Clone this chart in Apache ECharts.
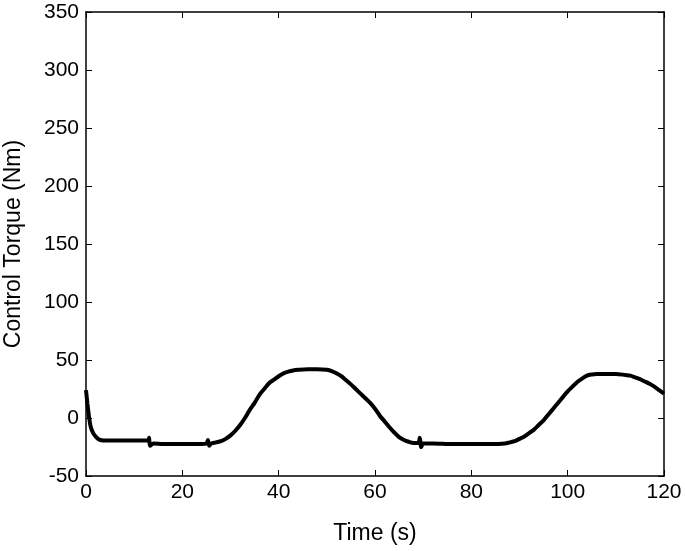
<!DOCTYPE html>
<html>
<head>
<meta charset="utf-8">
<script src="https://cdn.jsdelivr.net/npm/echarts@6/dist/echarts.min.js"></script>
<style>
html, body { margin: 0; padding: 0; background: #fff; }
#chart { width: 685px; height: 551px; }
</style>
</head>
<body>
<div id="chart"></div>
<script>
// time (s) and control torque (Nm)
var time = [0, 0.3, 0.6, 1, 1.5, 2, 2.5, 3, 4, 6, 8, 10, 12, 13, 13.1, 13.3, 14, 16, 20, 24,
    25, 25.3, 25.6, 26, 27, 28, 29, 30, 31, 32, 33, 34, 35, 36, 37, 38, 39, 40, 41, 42, 43, 44,
    46, 48, 50, 51, 52, 53, 54, 55, 56, 57, 58, 59, 60, 61, 62, 63, 64, 65, 66, 67, 68, 69,
    69.3, 69.6, 70, 72, 76, 80, 84, 87, 88, 89, 90, 91, 92, 93, 94, 95, 96, 97, 98, 99, 100,
    101, 102, 103, 104, 105, 106, 108, 110, 112, 113, 114, 115, 116, 117, 118, 119, 120];
var torque = [24, 12, 2, -8, -13, -16, -18, -19, -19.5, -19.5, -19.5, -19.5, -19.5, -19.5, -17, -24, -22, -22.5, -22.5, -22.5,
    -22, -19, -24, -22, -21, -20, -18, -15, -11, -6, 0, 7, 13, 20, 25, 30, 33, 36, 38.5, 40, 41, 41.5,
    42, 42, 41.5, 40.5, 38.5, 36, 32.5, 29, 25, 21, 17, 13, 8, 2, -3, -8, -12.5, -16.5, -19, -20.5, -21.5, -21.5,
    -17, -25, -22, -22, -22.5, -22.5, -22.5, -22, -21, -20, -18, -16, -13, -10, -6, -2, 3, 8, 13, 18, 23,
    27, 31, 34, 36.5, 37.5, 38, 38, 38, 37, 36.5, 35, 33.5, 31.5, 29.5, 27, 24, 21];

var xTicks = [0, 20, 40, 60, 80, 100, 120];
var yTicks = [-50, 0, 50, 100, 150, 200, 250, 300, 350];

var chart = echarts.init(document.getElementById('chart'));
var font = 'Liberation Sans, Arial, sans-serif';
var pts = time.map(function (t, i) { return [t, torque[i]]; });

function boxAxis(extra) {
    var base = {
        type: 'value',
        axisLine: { show: true, onZero: false, lineStyle: { color: '#000', width: 1.5 } },
        axisTick: { show: true, inside: true, length: 6, lineStyle: { color: '#000', width: 1 } },
        splitLine: { show: false }
    };
    return Object.assign(base, extra);
}

var option = {
    animation: false,
    backgroundColor: '#fff',
    grid: { left: 86, top: 12, right: 21, bottom: 75, containLabel: false, outerBoundsMode: 'none' },
    xAxis: [
        boxAxis({
            min: xTicks[0], max: xTicks[xTicks.length - 1], interval: 20,
            name: 'Time (s)', nameLocation: 'middle', nameGap: 46,
            nameTextStyle: { color: '#000', fontSize: 23, fontFamily: font },
            axisLabel: { color: '#000', fontSize: 21, fontFamily: font, margin: 6 }
        }),
        boxAxis({
            position: 'top', min: xTicks[0], max: xTicks[xTicks.length - 1], interval: 20,
            axisLabel: { show: false }
        })
    ],
    yAxis: [
        boxAxis({
            min: yTicks[0], max: yTicks[yTicks.length - 1], interval: 50,
            name: 'Control Torque (Nm)', nameLocation: 'middle', nameGap: 61,
            nameTextStyle: { color: '#000', fontSize: 23, fontFamily: font },
            axisLabel: { color: '#000', fontSize: 21, fontFamily: font, margin: 7 }
        }),
        boxAxis({
            position: 'right', min: yTicks[0], max: yTicks[yTicks.length - 1], interval: 50,
            axisLabel: { show: false }
        })
    ],
    series: [{
        type: 'line',
        data: pts,
        showSymbol: false,
        smooth: 0.3,
        lineStyle: { color: '#000', width: 4 }
    }]
};
chart.setOption(option);
</script>
</body>
</html>
